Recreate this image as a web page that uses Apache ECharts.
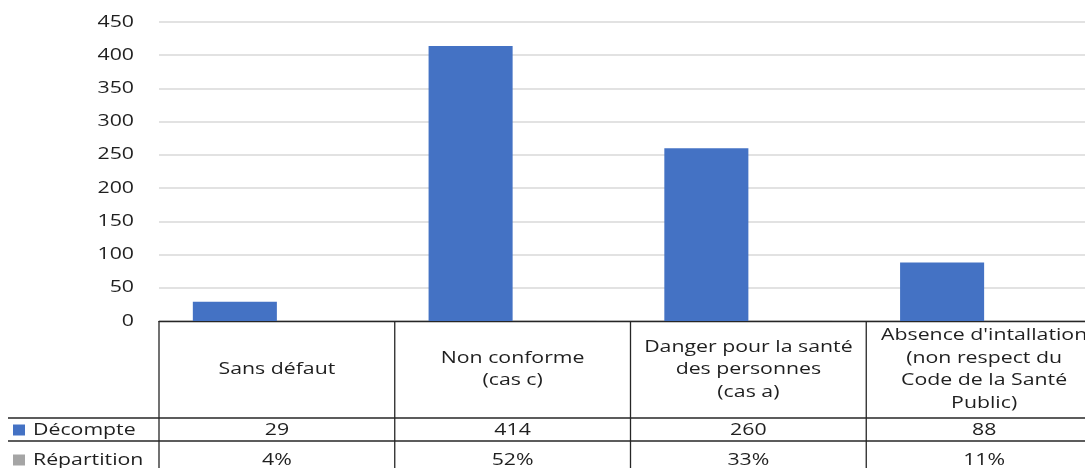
<!DOCTYPE html>
<html>
<head>
<meta charset="utf-8">
<script src="https://cdn.jsdelivr.net/npm/echarts@6/dist/echarts.min.js"></script>
<style>html,body{margin:0;padding:0;background:#fff}#c{width:1085px;height:468px}</style>
</head>
<body>
<div id="c"></div>
<script>
const categories = ["Sans défaut", "Non conforme\n(cas c)", "Danger pour la santé\ndes personnes\n(cas a)", "Absence d'intallation\n(non respect du\nCode de la Santé\nPublic)"];
const decompte = [29, 414, 260, 88];
const repartition = [0.04, 0.52, 0.33, 0.11];
const yTicks = [0, 50, 100, 150, 200, 250, 300, 350, 400, 450];
const rowNames = ["Décompte", "Répartition"];
const rowColors = ["#4472C4", "#A5A5A5"];

const FONT = '500 16px "Open Sans"';
const SX = 1.33;
const TXT = "#1f1f1f";
const LINE = "#262626";

const chart = echarts.init(document.getElementById('c'), null, {renderer: 'canvas'});

function pct(v) { return Math.round(v * 100) + '%'; }

function txt(s, x, y, align) {
  return {type: 'text', x: x, y: y, scaleX: SX, scaleY: 1,
    style: {text: s, x: 0, y: 0, align: align || 'center', verticalAlign: 'middle', font: FONT, fill: TXT, lineHeight: 22.5}};
}

function renderTable(params, api) {
  const idx = api.value(0);
  const p = api.coord([idx, 0]);
  const w = api.size([1, 0])[0];
  const cx = p[0], y0 = p[1];
  const x0 = cx - w / 2;
  const children = [];
  children.push({type: 'line', shape: {x1: x0, y1: y0, x2: x0, y2: y0 + 160}, style: {stroke: LINE, lineWidth: 1.3}});
  children.push(txt(categories[idx], cx, y0 + 48.5));
  children.push(txt(String(decompte[idx]), cx, y0 + 109));
  children.push(txt(pct(repartition[idx]), cx, y0 + 139));
  if (idx === 0) {
    const W = api.getWidth();
    [97, 120].forEach(function (dy) {
      children.push({type: 'line', shape: {x1: 8, y1: y0 + dy, x2: W, y2: y0 + dy}, style: {stroke: LINE, lineWidth: 1.3}});
    });
    [109, 139].forEach(function (dy, k) {
      children.push({type: 'rect', shape: {x: 13, y: y0 + dy - 5.5, width: 12, height: 11}, style: {fill: rowColors[k]}});
      children.push(txt(rowNames[k], 33, y0 + dy, 'left'));
    });
    yTicks.forEach(function (t) {
      const q = api.coord([0, t]);
      children.push(txt(String(t), 134, q[1], 'right'));
    });
  }
  return {type: 'group', children: children};
}

chart.setOption({
  animation: false,
  grid: {left: 159, width: 943, top: 22, height: 299, containLabel: false, outerBoundsMode: 'none'},
  xAxis: {
    type: 'category',
    data: categories,
    axisLine: {show: true, lineStyle: {color: LINE, width: 1.3}},
    axisTick: {show: false},
    axisLabel: {show: false}
  },
  yAxis: {
    type: 'value', min: yTicks[0], max: yTicks[yTicks.length - 1], interval: 50,
    axisLine: {show: false}, axisTick: {show: false},
    axisLabel: {show: false},
    splitLine: {lineStyle: {color: '#d9d9d9', width: 1.5}}
  },
  series: [
    {type: 'bar', name: rowNames[0], data: decompte, barGap: '0%', barCategoryGap: '28.7%', itemStyle: {color: rowColors[0]}},
    {type: 'bar', name: rowNames[1], data: repartition, barGap: '0%', barCategoryGap: '28.7%', itemStyle: {color: rowColors[1]}},
    {type: 'custom', data: decompte.map(function (v, i) { return [i, 0]; }), renderItem: renderTable, clip: false, silent: true, z: 5}
  ]
});
</script>
</body>
</html>
